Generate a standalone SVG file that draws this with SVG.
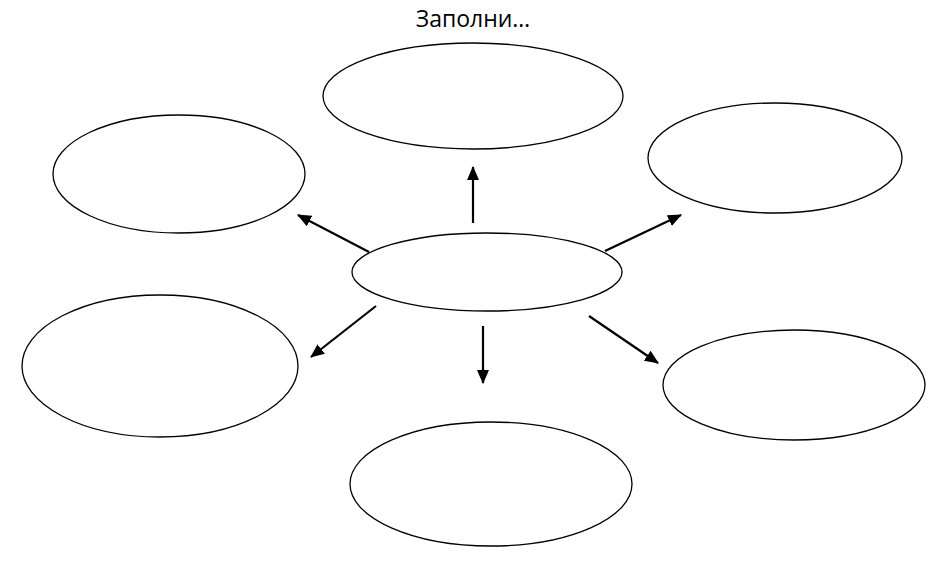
<svg xmlns="http://www.w3.org/2000/svg" width="929" height="561" viewBox="0 0 929 561">
<style>
.n{fill:#fff;stroke:#000;stroke-width:1.3}
.c{stroke:#000;stroke-width:2.2;fill:none;marker-end:url(#ah)}
.t{font-family:"Open Sans","Noto Sans","Liberation Sans",sans-serif;font-size:23px;fill:#000}
</style>
<defs>
<marker id="ah" markerUnits="userSpaceOnUse" markerWidth="14" markerHeight="12" refX="13" refY="6" orient="auto">
<path d="M0,0 L14,6 L0,12 Z" fill="#000"/>
</marker>
</defs>
<rect width="929" height="561" fill="#fff"/>
<text class="t" x="473" y="27" text-anchor="middle">Заполни…</text>
<g id="node-top"><ellipse class="n" cx="473" cy="96" rx="150" ry="53"/></g>
<g id="node-top-left"><ellipse class="n" cx="179" cy="174" rx="126" ry="59"/></g>
<g id="node-top-right"><ellipse class="n" cx="775" cy="158" rx="127" ry="55"/></g>
<g id="node-center"><ellipse class="n" cx="487" cy="272" rx="135" ry="39"/></g>
<g id="node-bottom-left"><ellipse class="n" cx="160" cy="366" rx="138" ry="71"/></g>
<g id="node-bottom-right"><ellipse class="n" cx="794" cy="385" rx="131" ry="55"/></g>
<g id="node-bottom"><ellipse class="n" cx="491" cy="484" rx="141" ry="62"/></g>
<g id="connectors">
<line class="c" x1="473" y1="223" x2="473" y2="167"/>
<line class="c" x1="369" y1="252" x2="298" y2="215"/>
<line class="c" x1="605" y1="251" x2="681" y2="215"/>
<line class="c" x1="376" y1="306" x2="311" y2="357"/>
<line class="c" x1="483" y1="326" x2="483" y2="383"/>
<line class="c" x1="589" y1="316" x2="658" y2="363"/>
</g>
</svg>
